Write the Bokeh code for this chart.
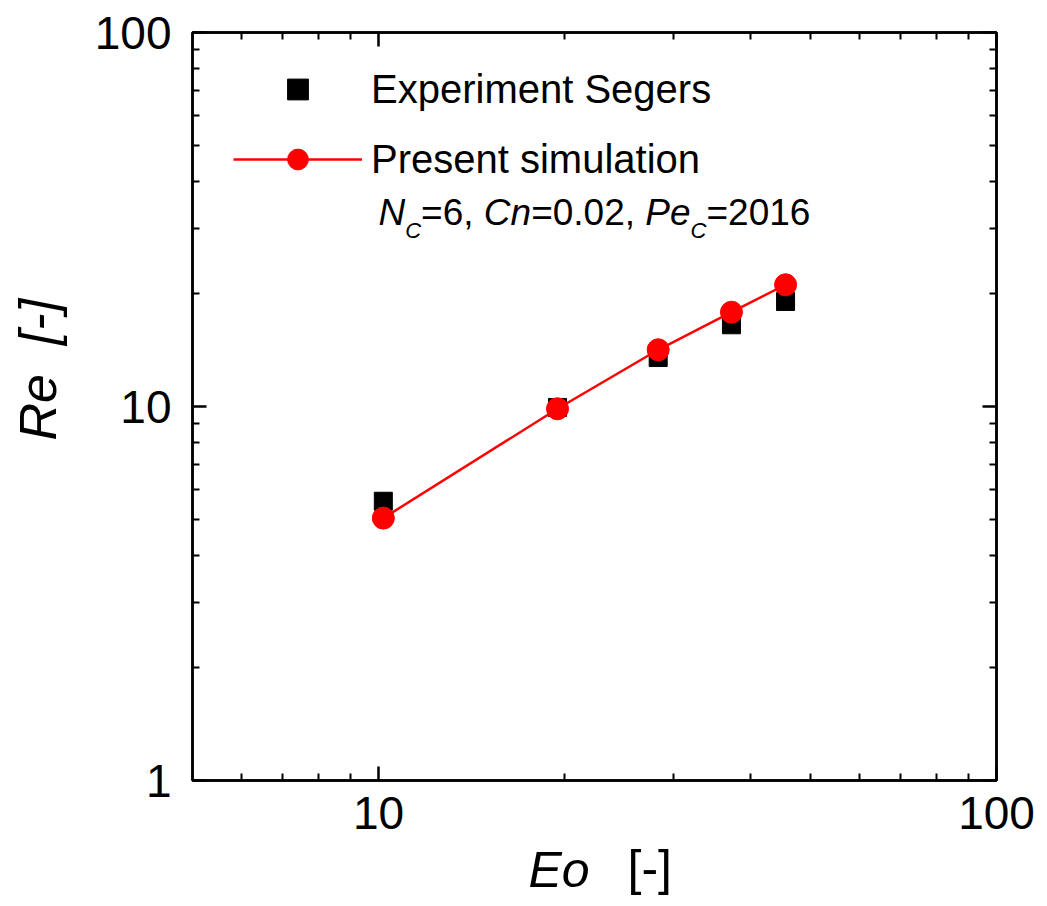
import math
from bokeh.plotting import figure
from bokeh.models import Range1d, LogAxis, FixedTicker, Label, Legend, LegendItem
from bokeh.embed import file_html
from bokeh.resources import INLINE

# ---- data ----
eo = [10.18, 19.48, 28.35, 37.25, 45.57]
re_experiment = [5.58, 9.94, 13.52, 16.54, 19.09]
re_simulation = [5.03, 9.86, 14.18, 17.87, 21.16]

x_major_ticks = [10, 100]
x_minor_ticks = [6, 7, 8, 9, 20, 30, 40, 50, 60, 70, 80, 90]
y_major_ticks = [1, 10, 100]
y_minor_ticks = [2, 3, 4, 5, 6, 7, 8, 9, 20, 30, 40, 50, 60, 70, 80, 90]
x_tick_labels = {10: "10", 100: "100"}
y_tick_labels = {1: "1", 10: "10", 100: "100"}

series_names = ["Experiment Segers", "Present simulation"]
note_pieces = [("N", "italic", True), ("C", "italic", False), ("=6, ", "normal", True),
               ("Cn", "italic", True), ("=0.02, ", "normal", True), ("Pe", "italic", True),
               ("C", "italic", False), ("=2016", "normal", True)]

FONT = "Liberation Sans"

p = figure(x_axis_type="log", y_axis_type="log",
           x_range=Range1d(5, 100), y_range=Range1d(1, 100),
           frame_width=804, frame_height=748,
           min_border_left=192, min_border_right=10, min_border_top=32, min_border_bottom=120,
           output_backend="svg", toolbar_location=None,
           background_fill_color="white", border_fill_color="white")
p.grid.visible = False
p.outline_line_color = "black"
p.outline_line_width = 2.5


def style_axis(ax, major, minor, labels):
    ax.ticker = FixedTicker(ticks=major, minor_ticks=minor)
    ax.axis_line_color = "black"
    ax.axis_line_width = 2.5
    ax.major_tick_in = 14
    ax.major_tick_out = 0
    ax.minor_tick_in = 7
    ax.minor_tick_out = 0
    ax.major_tick_line_width = 2.5
    ax.minor_tick_line_width = 2
    ax.major_tick_line_color = "black"
    ax.minor_tick_line_color = "black"
    ax.major_label_text_font = FONT
    ax.major_label_text_color = "black"
    if labels is None:
        ax.major_label_text_font_size = "1px"
        ax.major_label_text_alpha = 0
        ax.major_label_standoff = 0
    else:
        ax.major_label_overrides = labels
        ax.major_label_text_font_size = "46px"


style_axis(p.xaxis[0], x_major_ticks, x_minor_ticks, x_tick_labels)
p.xaxis[0].major_label_standoff = 16
style_axis(p.yaxis[0], y_major_ticks, y_minor_ticks, y_tick_labels)
p.yaxis[0].major_label_standoff = 21

top = LogAxis()
style_axis(top, x_major_ticks, x_minor_ticks, None)
p.add_layout(top, "above")
right = LogAxis()
style_axis(right, y_major_ticks, y_minor_ticks, None)
p.add_layout(right, "right")

# ---- data marks ----
r_sq = p.scatter(eo, re_experiment, marker="square", size=18, color="black")
r_ln = p.line(eo, re_simulation, line_color="red", line_width=2.5)
r_ci = p.scatter(eo, re_simulation, marker="circle", size=22, color="red")

legend = Legend(items=[LegendItem(label=series_names[0], renderers=[r_sq]),
                       LegendItem(label=series_names[1], renderers=[r_ln, r_ci])],
                location=(41, 595), glyph_width=129, glyph_height=52, label_standoff=9,
                label_text_font=FONT, label_text_font_size="40px", label_text_color="black",
                spacing=18, padding=0, margin=0, border_line_color=None,
                background_fill_alpha=0)
p.add_layout(legend)

# ---- annotation line under the legend ----
W = {"N": 0.722, "C": 0.722, "=": 0.584, "6": 0.556, ",": 0.278, " ": 0.278, "n": 0.556,
     "0": 0.556, ".": 0.278, "2": 0.556, "P": 0.667, "e": 0.556, "1": 0.556}
main_size, sub_size = 37, 22
cx = 186.0
base_y = 568.0
for txt, style, is_main in note_pieces:
    size = main_size if is_main else sub_size
    y = base_y if is_main else base_y - 18
    p.add_layout(Label(x=cx, y=y, x_units="screen", y_units="screen", text=txt,
                       text_font=FONT, text_font_size=f"{size}px", text_font_style=style,
                       text_color="black", text_baseline="alphabetic", text_align="left"))
    cx += sum(W[c] for c in txt) * size


# ---- axis titles (placed in side panels so they are not clipped by the frame) ----
def title_label(x, y, text, style, angle=0.0, size="50px"):
    return Label(x=x, y=y, x_units="screen", y_units="screen", text=text, angle=angle,
                 text_font=FONT, text_font_size=size, text_font_style=style,
                 text_baseline="alphabetic", text_align="left", text_color="black")

p.add_layout(title_label(336, 18, "Eo", "italic"), "below")
p.add_layout(title_label(-369, -87, "[-]", "normal"), "right")
p.add_layout(title_label(4, 340, "Re\u00a0\u00a0[-]", "italic", math.pi / 2, "52px"), "left")

open("out.html", "w").write(file_html(p, INLINE))
